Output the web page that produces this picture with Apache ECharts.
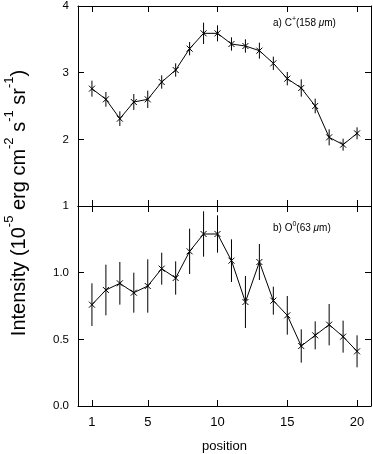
<!DOCTYPE html>
<html>
<head>
<meta charset="utf-8">
<script src="https://cdn.jsdelivr.net/npm/echarts@6/dist/echarts.min.js"></script>
<style>
  html, body { margin: 0; padding: 0; background: #fff; }
  #main { width: 373px; height: 454px; }
</style>
</head>
<body>
<div id="main"></div>
<script>
// positions along the cut
var positions = [1, 2, 3, 4, 5, 6, 7, 8, 9, 10, 11, 12, 13, 14, 15, 16, 17, 18, 19, 20]
// a) C+ 158 um
var cPlus = [2.76, 2.60, 2.31, 2.56, 2.60, 2.86, 3.04, 3.36, 3.59, 3.59, 3.43, 3.40, 3.33, 3.14, 2.91, 2.77, 2.50, 2.03, 1.92, 2.09]
var cPlusErr = [0.12, 0.11, 0.11, 0.12, 0.13, 0.10, 0.10, 0.10, 0.16, 0.12, 0.10, 0.10, 0.12, 0.10, 0.10, 0.13, 0.11, 0.12, 0.09, 0.09]
// b) O0 63 um
var oZero = [0.76, 0.87, 0.92, 0.85, 0.90, 1.03, 0.96, 1.16, 1.29, 1.29, 1.09, 0.78, 1.08, 0.79, 0.68, 0.45, 0.53, 0.61, 0.52, 0.41]
var oZeroErr = [0.16, 0.19, 0.16, 0.15, 0.20, 0.12, 0.125, 0.17, 0.17, 0.14, 0.16, 0.195, 0.135, 0.105, 0.145, 0.125, 0.105, 0.155, 0.12, 0.12]
var xTicks = [1, 5, 10, 15, 20]

var font = 'Liberation Sans, Arial, Helvetica, sans-serif'
var black = '#000'

function withErr (vals, errs) {
  return positions.map(function (p, i) { return [p, vals[i], errs[i]] })
}

function renderErr (params, api) {
  var x = api.value(0)
  var y = api.value(1)
  var e = api.value(2)
  var c = api.coord([x, y])
  var lo = api.coord([x, y - e])
  var hi = api.coord([x, y + e])
  var s = 3
  var st = { stroke: black, lineWidth: 1 }
  return {
    type: 'group',
    children: [
      { type: 'line', shape: { x1: lo[0], y1: lo[1], x2: hi[0], y2: hi[1] }, style: st },
      { type: 'line', shape: { x1: c[0] - s, y1: c[1] - s, x2: c[0] + s, y2: c[1] + s }, style: st },
      { type: 'line', shape: { x1: c[0] - s, y1: c[1] + s, x2: c[0] + s, y2: c[1] - s }, style: st }
    ]
  }
}

function xAxis (grid, pos, showLabel) {
  return {
    type: 'value',
    gridIndex: grid,
    position: pos,
    min: 0,
    max: 21,
    splitLine: { show: false },
    axisLine: { show: true, onZero: false, lineStyle: { color: black, width: 1 } },
    axisTick: { show: true, inside: true, length: 6, customValues: xTicks, lineStyle: { color: black } },
    axisLabel: { show: showLabel, customValues: xTicks, margin: 10, color: black, fontSize: 13, fontFamily: font },
    name: showLabel ? 'position' : '',
    nameLocation: 'middle',
    nameGap: 34,
    nameTextStyle: { color: black, fontSize: 13, fontFamily: font }
  }
}

function yAxis (grid, pos, min, max, step, fmt) {
  return {
    type: 'value',
    gridIndex: grid,
    position: pos,
    min: min,
    max: max,
    interval: step,
    splitLine: { show: false },
    axisLine: { show: true, onZero: false, lineStyle: { color: black, width: 1 } },
    axisTick: { show: true, inside: true, length: 6, lineStyle: { color: black } },
    axisLabel: { show: pos === 'left', margin: 9, color: black, fontSize: 11.5, fontFamily: font, formatter: fmt }
  }
}

var chart = echarts.init(document.getElementById('main'))
chart.setOption({
  animation: false,
  backgroundColor: '#fff',
  grid: [
    { left: 78, top: 2, width: 293, height: 204 },
    { left: 78, top: 206, width: 293, height: 203 }
  ],
  xAxis: [
    xAxis(0, 'bottom', false),
    xAxis(0, 'top', false),
    xAxis(1, 'bottom', true),
    xAxis(1, 'top', false)
  ],
  yAxis: [
    yAxis(0, 'left', 1, 4, 1, function (v) { return String(v) }),
    yAxis(0, 'right', 1, 4, 1),
    yAxis(1, 'left', 0, 1.5, 0.5, function (v) { return v >= 1.5 ? '' : v.toFixed(1) }),
    yAxis(1, 'right', 0, 1.5, 0.5)
  ],
  graphic: [
    {
      type: 'text',
      x: 16,
      y: 203,
      rotation: Math.PI / 2,
      style: {
        text: '{n|Intensity (10}{s|-5}{n| erg cm}{s|-2}{n| s}{s|-1}{n| sr}{s|-1}{n|)}',
        align: 'center',
        verticalAlign: 'middle',
        rich: {
          n: { fontSize: 20, fontFamily: font, fill: black, lineHeight: 26, verticalAlign: 'bottom' },
          s: { fontSize: 13, fontFamily: font, fill: black, lineHeight: 14, verticalAlign: 'top' }
        }
      }
    },
    {
      type: 'text',
      x: 273,
      y: 22,
      style: {
        text: '{n|a) C}{s|+}{n|(158 }{g|μ}{n|m)}',
        verticalAlign: 'middle',
        rich: {
          n: { fontSize: 10, fontFamily: font, fill: black, lineHeight: 13, verticalAlign: 'bottom' },
          s: { fontSize: 7, fontFamily: font, fill: black, lineHeight: 8, verticalAlign: 'top' },
          g: { fontSize: 10, fontFamily: font, fill: black, fontStyle: 'italic', lineHeight: 13, verticalAlign: 'bottom' }
        }
      }
    },
    {
      type: 'text',
      x: 273,
      y: 227,
      style: {
        text: '{n|b) O}{s|0}{n|(63 }{g|μ}{n|m)}',
        verticalAlign: 'middle',
        rich: {
          n: { fontSize: 10, fontFamily: font, fill: black, lineHeight: 13, verticalAlign: 'bottom' },
          s: { fontSize: 7, fontFamily: font, fill: black, lineHeight: 8, verticalAlign: 'top' },
          g: { fontSize: 10, fontFamily: font, fill: black, fontStyle: 'italic', lineHeight: 13, verticalAlign: 'bottom' }
        }
      }
    }
  ],
  series: [
    {
      type: 'line',
      xAxisIndex: 0,
      yAxisIndex: 0,
      data: withErr(cPlus, cPlusErr),
      symbol: 'none',
      lineStyle: { color: black, width: 1 }
    },
    {
      type: 'custom',
      xAxisIndex: 0,
      yAxisIndex: 0,
      data: withErr(cPlus, cPlusErr),
      renderItem: renderErr,
      encode: { x: 0, y: 1 }
    },
    {
      type: 'line',
      xAxisIndex: 2,
      yAxisIndex: 2,
      data: withErr(oZero, oZeroErr),
      symbol: 'none',
      lineStyle: { color: black, width: 1 }
    },
    {
      type: 'custom',
      xAxisIndex: 2,
      yAxisIndex: 2,
      data: withErr(oZero, oZeroErr),
      renderItem: renderErr,
      encode: { x: 0, y: 1 }
    }
  ]
})
</script>
</body>
</html>
